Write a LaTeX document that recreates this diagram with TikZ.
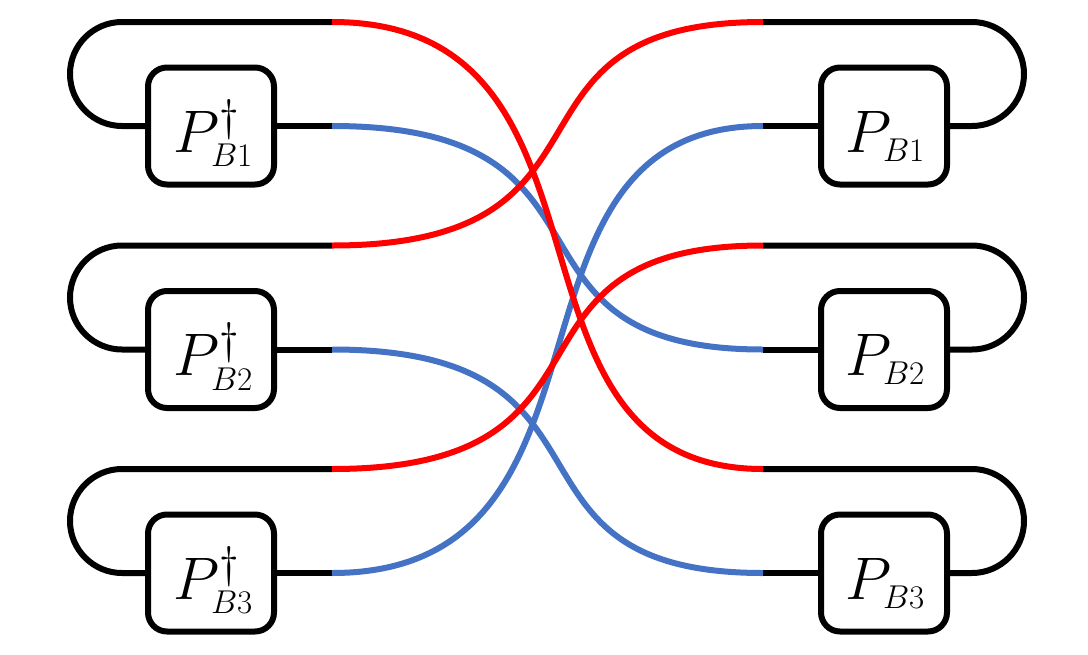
\RequirePackage{fix-cm}
\documentclass[tikz,border=0pt]{standalone}
\DeclareMathSizes{60}{60}{33}{25}
\newcommand{\bigdag}{\mbox{\fontsize{44}{44}\selectfont$\dagger$}}
\begin{document}
\begin{tikzpicture}[x=1pt,y=-1pt,
  wire/.style={line width=6pt,black},
  redw/.style={line width=6pt,color={rgb,255:red,255;green,0;blue,0}},
  bluew/.style={line width=6pt,color={rgb,255:red,68;green,114;blue,196}},
  opbox/.style={draw,line width=6pt,rounded corners=19pt,minimum width=126pt,minimum height=117pt,inner sep=0pt},
  lbl/.style={anchor=base,inner sep=0pt,font=\fontsize{60}{60}\selectfont}]
\useasboundingbox (0,0) rectangle (1088,654);
% boxes
\node[opbox] (Lb1) at (211,126) {};
\node[opbox] (Lb2) at (211,349.5) {};
\node[opbox] (Lb3) at (211,573) {};
\node[opbox] (Rb1) at (884,126) {};
\node[opbox] (Rb2) at (884,349.5) {};
\node[opbox] (Rb3) at (884,573) {};
% labels
\node[lbl] (tL1) at (213,152) {$P^{\bigdag}_{B1}$};
\node[lbl] (tL2) at (213,375.5) {$P^{\bigdag}_{B2}$};
\node[lbl] (tL3) at (213,599) {$P^{\bigdag}_{B3}$};
\node[lbl] (tR1) at (885,152) {$P_{B1}$};
\node[lbl] (tR2) at (885,375.5) {$P_{B2}$};
\node[lbl] (tR3) at (885,599) {$P_{B3}$};
% junctions
\coordinate (L1t) at (332,22);    \coordinate (L1b) at (332,126);
\coordinate (L2t) at (332,245.5); \coordinate (L2b) at (332,349.5);
\coordinate (L3t) at (332,469);   \coordinate (L3b) at (332,573);
\coordinate (R1t) at (763,22);    \coordinate (R1b) at (763,126);
\coordinate (R2t) at (763,245.5); \coordinate (R2b) at (763,349.5);
\coordinate (R3t) at (763,469);   \coordinate (R3b) at (763,573);
% black loops and stubs
\foreach \i in {1,2,3}{
  \draw[wire] (L\i t) -- ++(-210,0)
     .. controls +(-28.7,0) and +(0,-28.7) .. ++(-52,52)
     .. controls +(0,28.7) and +(-28.7,0) .. ++(52,52) -- (Lb\i.west);
  \draw[wire] (Lb\i.east) -- (L\i b);
  \draw[wire] (R\i t) -- ++(209,0)
     .. controls +(28.7,0) and +(0,-28.7) .. ++(52,52)
     .. controls +(0,28.7) and +(28.7,0) .. ++(-52,52) -- (Rb\i.east);
  \draw[wire] (R\i b) -- (Rb\i.west);
}
% blue curves
\draw[bluew] (L1b) .. controls +(310,0) and +(-284,0) .. (R2b);
\draw[bluew] (L2b) .. controls +(310,0) and +(-284,0) .. (R3b);
\draw[bluew] (L3b) .. controls +(310,0) and +(-284,0) .. (R1b);
% red curves
\draw[redw] (L1t) .. controls +(310,0) and +(-284,0) .. (R3t);
\draw[redw] (L2t) .. controls +(310,0) and +(-284,0) .. (R1t);
\draw[redw] (L3t) .. controls +(310,0) and +(-284,0) .. (R2t);
\end{tikzpicture}
\end{document}
